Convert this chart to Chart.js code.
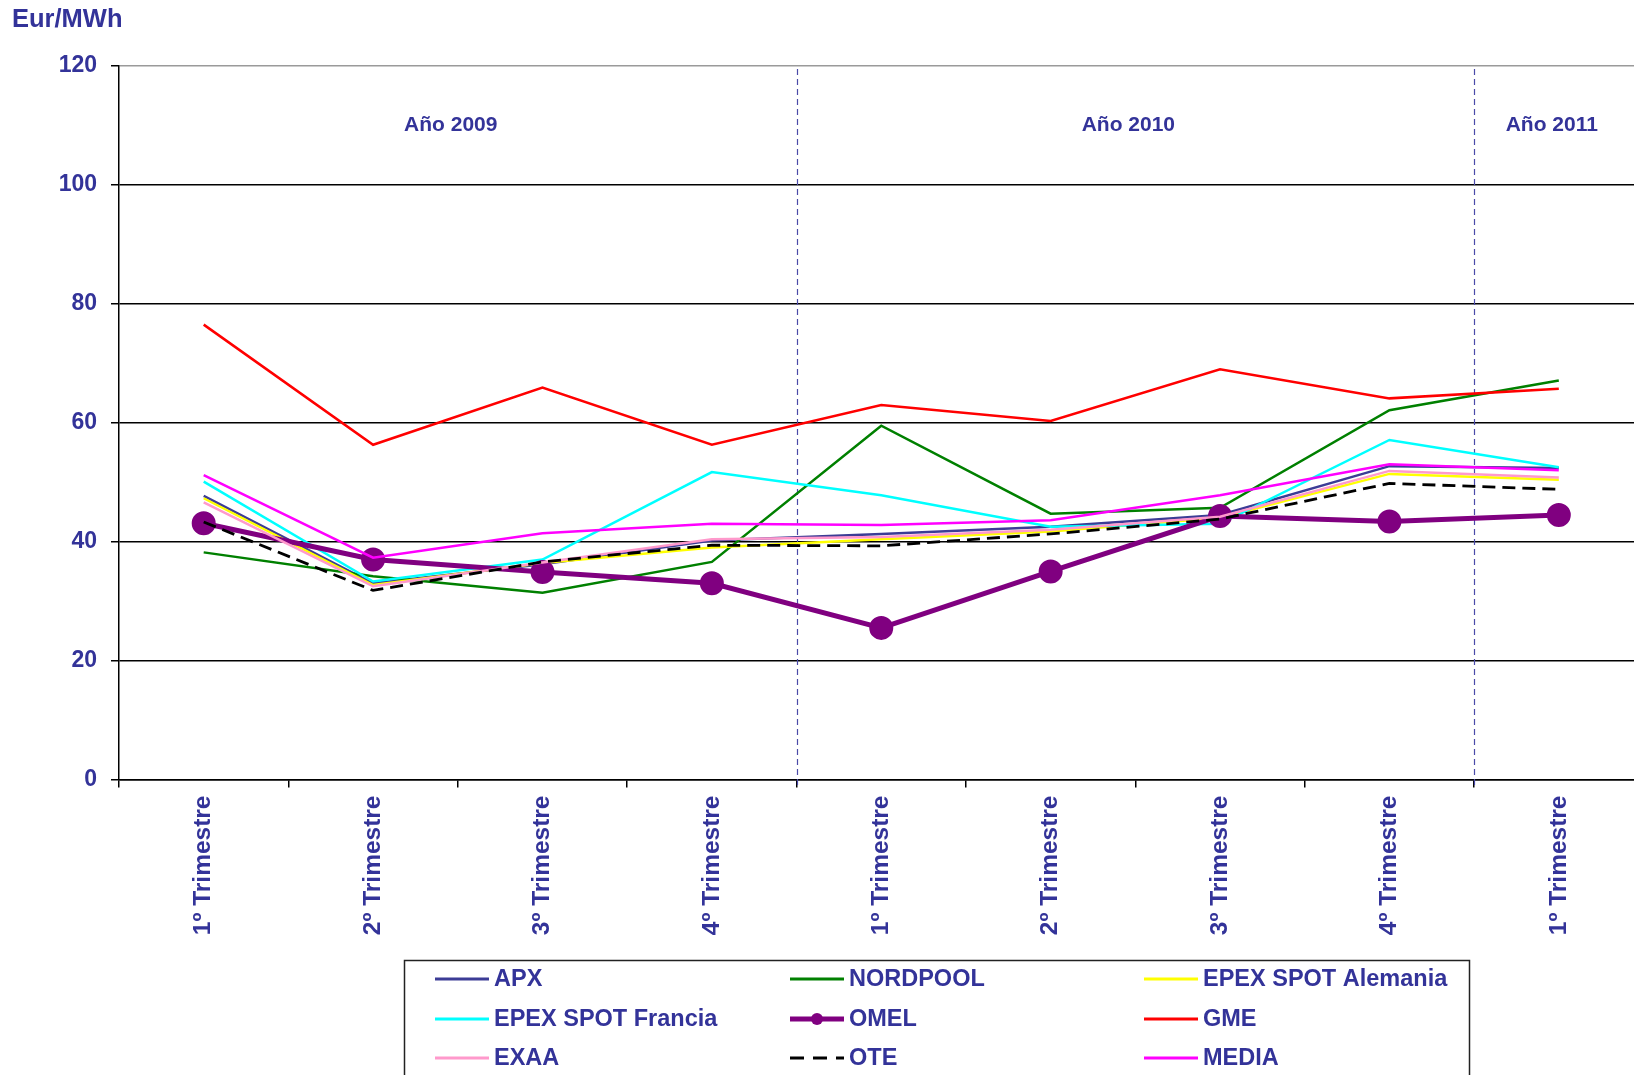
<!DOCTYPE html>
<html>
<head>
<meta charset="utf-8">
<script src="https://cdn.jsdelivr.net/npm/chart.js@4.4.1/dist/chart.umd.min.js"></script>
<style>
html,body{margin:0;padding:0;background:#fff;overflow:hidden;width:1634px;height:1075px;}
canvas{display:block;}
</style>
</head>
<body>
<canvas id="c" width="1658" height="1075" style="width:1658px;height:1075px"></canvas>
<script>
const categories = ['1º Trimestre','2º Trimestre','3º Trimestre','4º Trimestre','1º Trimestre','2º Trimestre','3º Trimestre','4º Trimestre','1º Trimestre'];
const yearLabels = ['Año 2009','Año 2010','Año 2011'];
const yearSpans = [[0,3],[4,7],[8,8]];
const yTicks = [0,20,40,60,80,100,120];

const apx        = [47.7, 33.0, 36.2, 40.2, 41.3, 42.5, 44.5, 52.7, 52.4];
const nordpool   = [38.2, 34.2, 31.4, 36.6, 59.5, 44.7, 45.7, 62.1, 67.1];
const epexDE     = [47.3, 32.7, 36.4, 39.0, 40.4, 41.7, 44.0, 51.4, 50.4];
const epexFR     = [50.1, 33.3, 37.0, 51.7, 47.8, 42.5, 43.0, 57.1, 52.5];
const omel       = [43.1, 37.0, 34.9, 33.0, 25.5, 35.0, 44.3, 43.4, 44.5];
const gme        = [76.5, 56.3, 65.9, 56.3, 63.0, 60.3, 69.0, 64.1, 65.7];
const exaa       = [46.6, 32.5, 36.5, 40.4, 40.8, 42.0, 44.2, 51.9, 50.8];
const ote        = [43.3, 31.8, 36.6, 39.4, 39.3, 41.3, 43.8, 49.8, 48.8];
const media      = [51.2, 37.3, 41.4, 43.0, 42.8, 43.6, 47.8, 53.0, 52.0];

const FONT = "'Liberation Sans', Arial, Helvetica, sans-serif";
const TXT = '#333399';

function ds(label, data, color, order, extra) {
  return Object.assign({
    label, data, borderColor: color, backgroundColor: color,
    borderWidth: 2.5, pointRadius: 0, pointHoverRadius: 0, tension: 0, order
  }, extra || {});
}

const datasets = [
  ds('APX', apx, '#3c3c96', 9),
  ds('NORDPOOL', nordpool, '#008000', 8),
  ds('EPEX SPOT Alemania', epexDE, '#ffff00', 7),
  ds('EPEX SPOT Francia', epexFR, '#00ffff', 6),
  ds('OMEL', omel, '#800080', 5, {borderWidth: 5, pointRadius: 9.5, pointStyle: 'circle'}),
  ds('GME', gme, '#ff0000', 4),
  ds('EXAA', exaa, '#ff99cc', 3),
  ds('OTE', ote, '#000000', 2, {borderDash: [13, 7], borderWidth: 2.8}),
  ds('MEDIA', media, '#ff00ff', 1)
];

const decor = {
  id: 'decor',
  beforeDatasetsDraw(chart) {
    const {ctx, chartArea, scales: {x, y}} = chart;
    ctx.save();
    ctx.strokeStyle = '#4a4aa8';
    ctx.lineWidth = 1.2;
    ctx.setLineDash([6, 4]);
    for (let i = 0; i < yearSpans.length - 1; i++) {
      const b = (x.getPixelForValue(yearSpans[i][1]) + x.getPixelForValue(yearSpans[i+1][0])) / 2;
      ctx.beginPath();
      ctx.moveTo(Math.round(b) + 0.5, chartArea.top + 3);
      ctx.lineTo(Math.round(b) + 0.5, chartArea.bottom + 8);
      ctx.stroke();
    }
    ctx.setLineDash([]);
    ctx.fillStyle = TXT;
    ctx.font = 'bold 21px ' + FONT;
    ctx.textAlign = 'center';
    ctx.textBaseline = 'middle';
    const half = (x.getPixelForValue(1) - x.getPixelForValue(0)) / 2;
    yearSpans.forEach((s, i) => {
      const l = x.getPixelForValue(s[0]) - half;
      const r = x.getPixelForValue(s[1]) + half;
      ctx.fillText(yearLabels[i], (l + r) / 2 - 7, y.getPixelForValue(110));
    });
    ctx.restore();
  },
  afterDraw(chart) {
    const {ctx} = chart;
    ctx.save();
    ctx.fillStyle = TXT;
    ctx.font = 'bold 25.5px ' + FONT;
    ctx.textAlign = 'left';
    ctx.textBaseline = 'middle';
    ctx.fillText('Eur/MWh', 12, 20);
    ctx.strokeStyle = '#222';
    ctx.lineWidth = 1.5;
    ctx.strokeRect(404.5, 960.5, 1065, 140);
    const colX = [435, 790, 1144];
    const rowY = [979, 1019, 1058];
    ctx.font = 'bold 23.5px ' + FONT;
    chart.data.datasets.forEach((d, i) => {
      const cx = colX[i % 3], cy = rowY[Math.floor(i / 3)];
      ctx.strokeStyle = d.borderColor;
      ctx.lineWidth = d.label === 'OMEL' ? 5 : 3;
      ctx.setLineDash(d.borderDash ? [14, 9] : []);
      ctx.beginPath();
      ctx.moveTo(cx, cy);
      ctx.lineTo(cx + 54, cy);
      ctx.stroke();
      ctx.setLineDash([]);
      if (d.pointRadius) {
        ctx.fillStyle = d.borderColor;
        ctx.beginPath();
        ctx.arc(cx + 27, cy, 6, 0, Math.PI * 2);
        ctx.fill();
      }
      ctx.fillStyle = TXT;
      ctx.fillText(d.label, cx + 59, cy + 1);
    });
    ctx.restore();
  }
};

new Chart(document.getElementById('c'), {
  type: 'line',
  data: {labels: categories, datasets},
  plugins: [decor],
  options: {
    responsive: false,
    animation: false,
    events: [],
    layout: {padding: {left: 0, top: 66, right: 1.5, bottom: 125.5}},
    plugins: {legend: {display: false}, tooltip: {enabled: false}, title: {display: false}},
    scales: {
      x: {
        offset: true,
        afterFit(s) { s.height = 170; },
        grid: {offset: true, drawOnChartArea: false, drawTicks: true, tickLength: 8, color: '#000', lineWidth: 1.5},
        border: {display: true, color: '#000', width: 1.5},
        ticks: {
          autoSkip: false, minRotation: 90, maxRotation: 90, padding: 8,
          color: TXT, font: {family: FONT, size: 24.5, weight: 'bold'}
        }
      },
      y: {
        min: 0, max: 120,
        afterFit(s) { s.width = 119; },
        afterBuildTicks(s) { s.ticks = yTicks.map(v => ({value: v})); },
        grid: {
          color: c => (c.tick && c.tick.value === 120) ? '#9a9a9a' : '#000',
          tickColor: '#000', lineWidth: 1.5, tickLength: 8
        },
        border: {display: true, color: '#000', width: 1.5},
        ticks: {padding: 14, color: TXT, font: {family: FONT, size: 23, weight: 'bold'}}
      }
    }
  }
});
</script>
</body>
</html>
